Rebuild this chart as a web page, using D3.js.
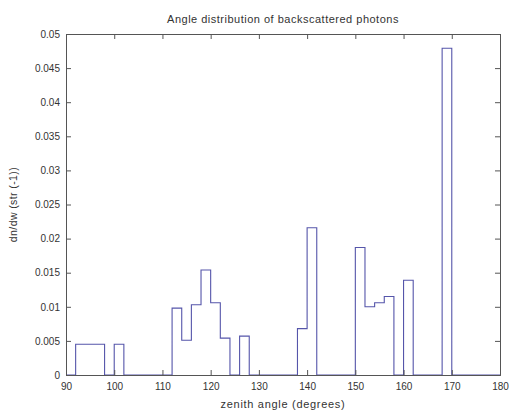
<!DOCTYPE html>
<html>
<head>
<meta charset="utf-8">
<script src="https://cdn.jsdelivr.net/npm/d3@7"></script>
<style>
  body { margin: 0; background: #fff; }
  text { font-family: "Liberation Sans", Arial, sans-serif; fill: #333; }
</style>
</head>
<body>
<script>
// 2-degree bins from 90 to 180
var binStart = 90
var binWidth = 2
var binValues = [
  0, 0.0045, 0.0045, 0.0045, 0, 0.0045,
  0, 0, 0, 0, 0,
  0.0098, 0.0051, 0.0103, 0.0154, 0.0106, 0.0054,
  0, 0.0057,
  0, 0, 0, 0, 0,
  0.0068, 0.0216,
  0, 0, 0, 0,
  0.0187, 0.0100, 0.0106, 0.0115, 0, 0.0139,
  0, 0, 0,
  0.0479,
  0, 0, 0, 0, 0
]
var xTicks = [90, 100, 110, 120, 130, 140, 150, 160, 170, 180]
var yTicks = [0, 0.005, 0.01, 0.015, 0.02, 0.025, 0.03, 0.035, 0.04, 0.045, 0.05]

var width = 509, height = 412
var margin = {left: 66, right: 9, top: 34, bottom: 37}

var svg = d3.select("body").append("svg")
  .attr("width", width)
  .attr("height", height)

var x = d3.scaleLinear().domain([90, 180]).range([margin.left, width - margin.right])
var y = d3.scaleLinear().domain([0, 0.05]).range([height - margin.bottom, margin.top])

// step outline of histogram
var pts = [[binStart, 0]]
binValues.forEach(function(v, i)
{
  var a = binStart + i * binWidth
  pts.push([a, v])
  pts.push([a + binWidth, v])
})
pts.push([binStart + binValues.length * binWidth, 0])

var line = d3.line()
  .x(function(d) { return x(d[0]) })
  .y(function(d) { return y(d[1]) })

svg.append("path")
  .datum(pts)
  .attr("d", line)
  .attr("fill", "none")
  .attr("stroke", "#5555aa")
  .attr("stroke-width", 1.1)

// axes, MATLAB style: box with inward ticks on all sides
var tickLen = 5
var bottom = svg.append("g").attr("transform", "translate(0," + y(0) + ")")
  .call(d3.axisBottom(x).tickValues(xTicks).tickSize(-tickLen).tickPadding(8).tickFormat(d3.format("d")))
var top = svg.append("g").attr("transform", "translate(0," + y(0.05) + ")")
  .call(d3.axisTop(x).tickValues(xTicks).tickSize(-tickLen).tickFormat(""))
var left = svg.append("g").attr("transform", "translate(" + x(90) + ",0)")
  .call(d3.axisLeft(y).tickValues(yTicks).tickSize(-tickLen).tickPadding(6).tickFormat(function(d) { return d === 0 ? "0" : d3.format("")(+d.toFixed(3)) }))
var right = svg.append("g").attr("transform", "translate(" + x(180) + ",0)")
  .call(d3.axisRight(y).tickValues(yTicks).tickSize(-tickLen).tickFormat(""))

svg.selectAll(".domain").attr("stroke", "#555").attr("stroke-width", 1)
svg.selectAll(".tick line").attr("stroke", "#555")
svg.selectAll(".tick text").style("font-size", "10px").attr("fill", "#444")
svg.selectAll("g").attr("font-family", null)

svg.append("text")
  .attr("x", (x(90) + x(180)) / 2)
  .attr("y", 23)
  .attr("text-anchor", "middle")
  .style("font-size", "11px")
  .style("letter-spacing", "0.5px")
  .text("Angle distribution of backscattered photons")

svg.append("text")
  .attr("x", (x(90) + x(180)) / 2)
  .attr("y", 408)
  .attr("text-anchor", "middle")
  .style("font-size", "11px")
  .style("letter-spacing", "0.7px")
  .text("zenith angle (degrees)")

svg.append("text")
  .attr("transform", "translate(17," + (y(0.025)) + ") rotate(-90)")
  .attr("text-anchor", "middle")
  .style("font-size", "10.5px")
  .style("letter-spacing", "0.4px")
  .text("dn/dw (str (-1))")
</script>
</body>
</html>
